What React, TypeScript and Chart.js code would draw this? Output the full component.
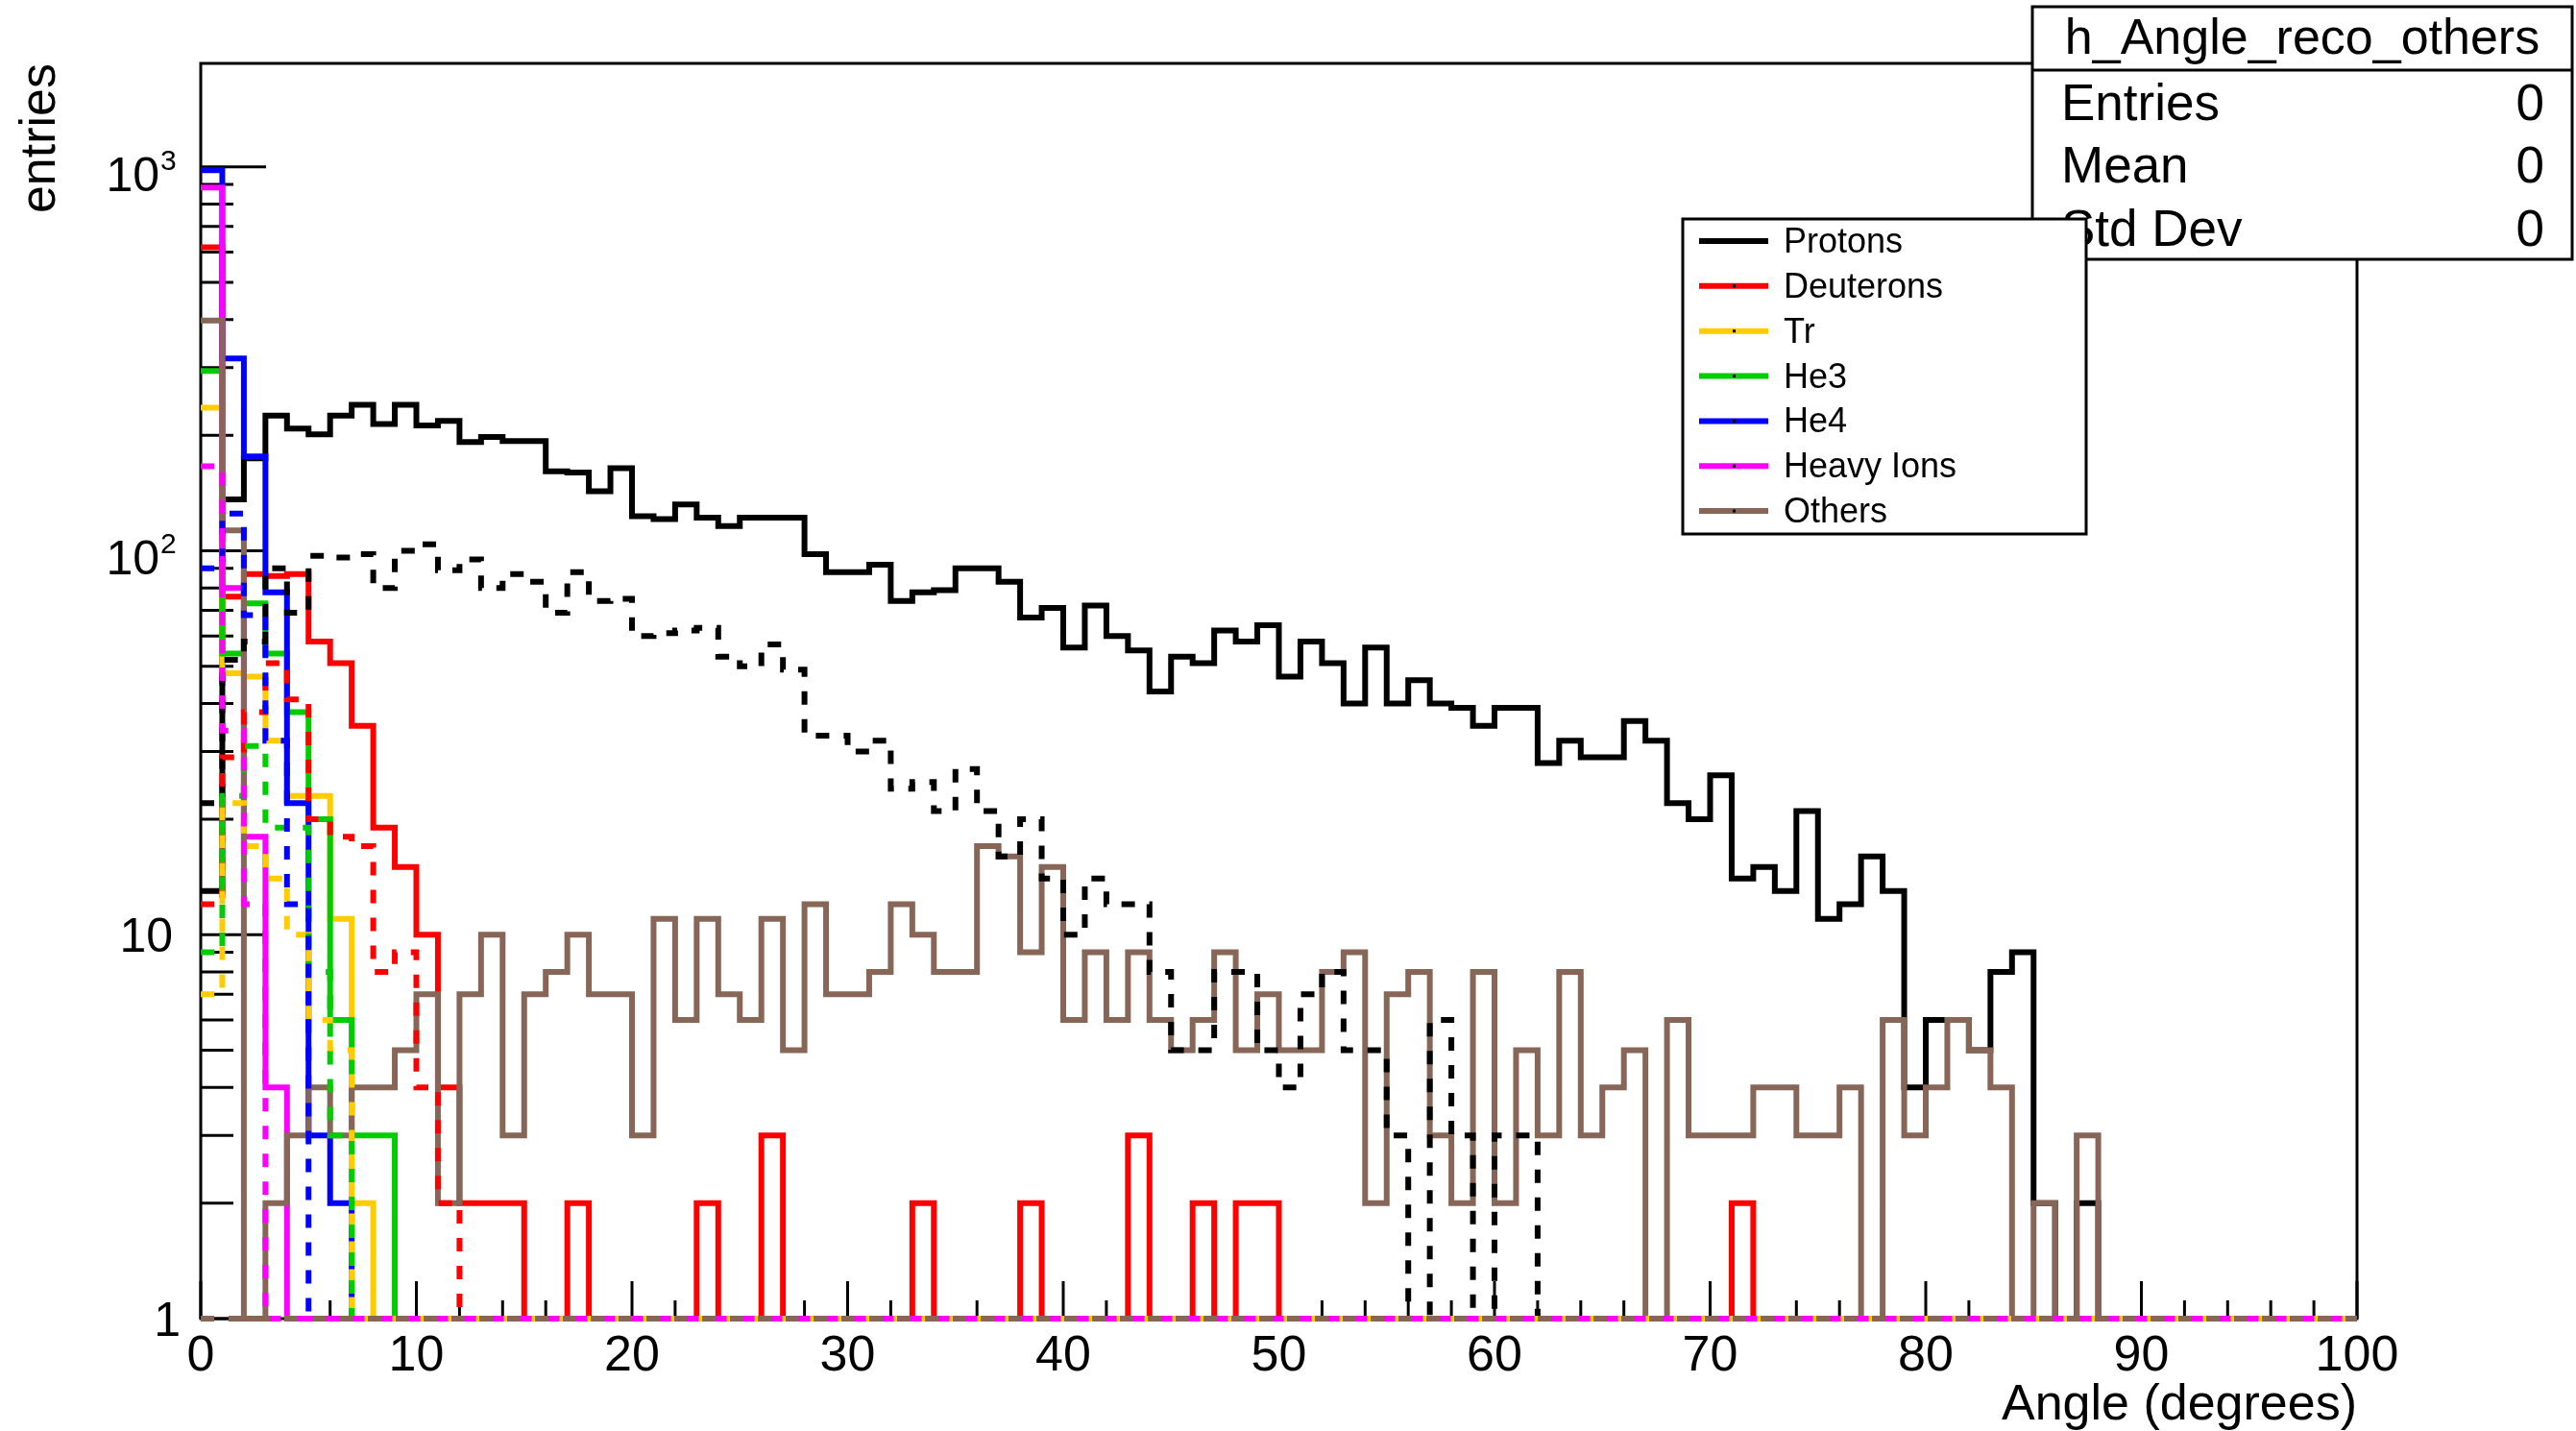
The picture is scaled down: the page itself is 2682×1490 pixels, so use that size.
import React, { useEffect, useRef } from "react";
import { Chart, registerables } from "chart.js";

Chart.register(...registerables);

const CANVAS_W = 2682;
const CANVAS_H = 1490;

// Histogram definition: 100 bins of 1 degree from 0 to 100
const N_BINS = 100;
const X_MIN = 0;
const X_MAX = 100;
const Y_MIN = 1;
const Y_MAX = 1860;

const X_TICK_LABELS = ["0", "10", "20", "30", "40", "50", "60", "70", "80", "90", "100"];
const X_MAJOR_STEP = 10;
const X_MINOR_STEP = 2;
const Y_DECADES = [1, 10, 100, 1000];
const Y_DECADE_BASES = ["1", "10", "10", "10"];
const Y_DECADE_EXPS = ["", "", "2", "3"];

const X_TITLE = "Angle (degrees)";
const Y_TITLE = "entries";
const STATS_TITLE = "h_Angle_reco_others";
const STATS_NAMES = ["Entries", "Mean", "Std Dev"];
const STATS_VALUES = ["0", "0", "0"];

const LEGEND_LABELS = ["Protons", "Deuterons", "Tr", "He3", "He4", "Heavy Ions", "Others"];
const SERIES_COLORS = ["#000000", "#FF0000", "#FFCC00", "#00CC00", "#0000FF", "#FF00FF", "#876657"];

// ---- bin contents (solid = true, dashed = reco) ----
const PROTONS_TRUE = [
  13, 136, 174, 225, 208, 201, 225, 240, 214, 240,
  212, 218, 192, 198, 193, 193, 161, 160, 143, 164,
  123, 121, 132, 122, 116, 122, 122, 122, 98, 88,
  88, 92, 74, 78, 79, 90, 90, 83, 67, 71,
  56, 72, 60, 55, 43, 53, 51, 62, 58, 64,
  47, 58, 51, 40, 56, 40, 46, 40, 39, 35,
  39, 39, 28, 32, 29, 29, 36, 32, 22, 20,
  26, 14, 15, 13, 21, 11, 12, 16, 13, 4,
  6, 6, 5, 8, 9, 2, 0, 2, 0, 0,
  0, 0, 0, 0, 0, 0, 0, 0, 0, 0,
];
const PROTONS_RECO = [
  22, 52, 58, 90, 69, 97, 96, 98, 80, 100,
  104, 89, 95, 80, 87, 83, 69, 88, 74, 75,
  60, 61, 62, 63, 53, 50, 57, 49, 33, 33,
  30, 32, 24, 25, 21, 27, 21, 16, 20, 14,
  10, 14, 12, 12, 8, 5, 5, 8, 8, 5,
  4, 7, 8, 5, 5, 3, 0, 6, 3, 0,
  3, 3, 0, 0, 0, 0, 0, 0, 0, 0,
  0, 0, 0, 0, 0, 0, 0, 0, 0, 0,
  0, 0, 0, 0, 0, 0, 0, 0, 0, 0,
  0, 0, 0, 0, 0, 0, 0, 0, 0, 0,
];
const DEUTERONS_TRUE = [
  617, 76, 87, 86, 87, 58, 51, 35, 19, 15,
  10, 4, 2, 2, 2, 0, 0, 2, 0, 0,
  0, 0, 0, 2, 0, 0, 3, 0, 0, 0,
  0, 0, 0, 2, 0, 0, 0, 0, 2, 0,
  0, 0, 0, 3, 0, 0, 2, 0, 2, 2,
  0, 0, 0, 0, 0, 0, 0, 0, 0, 0,
  0, 0, 0, 0, 0, 0, 0, 0, 0, 0,
  0, 2, 0, 0, 0, 0, 0, 0, 0, 0,
  0, 0, 0, 0, 0, 0, 0, 0, 0, 0,
  0, 0, 0, 0, 0, 0, 0, 0, 0, 0,
];
const DEUTERONS_RECO = [
  12, 29, 38, 51, 41, 20, 18, 17, 8, 9,
  4, 2, 0, 0, 0, 0, 0, 0, 0, 0,
  0, 0, 0, 0, 0, 0, 0, 0, 0, 0,
  0, 0, 0, 0, 0, 0, 0, 0, 0, 0,
  0, 0, 0, 0, 0, 0, 0, 0, 0, 0,
  0, 0, 0, 0, 0, 0, 0, 0, 0, 0,
  0, 0, 0, 0, 0, 0, 0, 0, 0, 0,
  0, 0, 0, 0, 0, 0, 0, 0, 0, 0,
  0, 0, 0, 0, 0, 0, 0, 0, 0, 0,
  0, 0, 0, 0, 0, 0, 0, 0, 0, 0,
];
const TRITONS_TRUE = [
  236, 48, 47, 32, 23, 23, 11, 2, 0, 0,
  0, 0, 0, 0, 0, 0, 0, 0, 0, 0,
  0, 0, 0, 0, 0, 0, 0, 0, 0, 0,
  0, 0, 0, 0, 0, 0, 0, 0, 0, 0,
  0, 0, 0, 0, 0, 0, 0, 0, 0, 0,
  0, 0, 0, 0, 0, 0, 0, 0, 0, 0,
  0, 0, 0, 0, 0, 0, 0, 0, 0, 0,
  0, 0, 0, 0, 0, 0, 0, 0, 0, 0,
  0, 0, 0, 0, 0, 0, 0, 0, 0, 0,
  0, 0, 0, 0, 0, 0, 0, 0, 0, 0,
];
const TRITONS_RECO = [
  7, 22, 17, 14, 10, 6, 5, 0, 0, 0,
  0, 0, 0, 0, 0, 0, 0, 0, 0, 0,
  0, 0, 0, 0, 0, 0, 0, 0, 0, 0,
  0, 0, 0, 0, 0, 0, 0, 0, 0, 0,
  0, 0, 0, 0, 0, 0, 0, 0, 0, 0,
  0, 0, 0, 0, 0, 0, 0, 0, 0, 0,
  0, 0, 0, 0, 0, 0, 0, 0, 0, 0,
  0, 0, 0, 0, 0, 0, 0, 0, 0, 0,
  0, 0, 0, 0, 0, 0, 0, 0, 0, 0,
  0, 0, 0, 0, 0, 0, 0, 0, 0, 0,
];
const HE3_TRUE = [
  294, 54, 73, 54, 38, 20, 6, 3, 3, 0,
  0, 0, 0, 0, 0, 0, 0, 0, 0, 0,
  0, 0, 0, 0, 0, 0, 0, 0, 0, 0,
  0, 0, 0, 0, 0, 0, 0, 0, 0, 0,
  0, 0, 0, 0, 0, 0, 0, 0, 0, 0,
  0, 0, 0, 0, 0, 0, 0, 0, 0, 0,
  0, 0, 0, 0, 0, 0, 0, 0, 0, 0,
  0, 0, 0, 0, 0, 0, 0, 0, 0, 0,
  0, 0, 0, 0, 0, 0, 0, 0, 0, 0,
  0, 0, 0, 0, 0, 0, 0, 0, 0, 0,
];
const HE3_RECO = [
  9, 23, 31, 19, 19, 8, 3, 0, 0, 0,
  0, 0, 0, 0, 0, 0, 0, 0, 0, 0,
  0, 0, 0, 0, 0, 0, 0, 0, 0, 0,
  0, 0, 0, 0, 0, 0, 0, 0, 0, 0,
  0, 0, 0, 0, 0, 0, 0, 0, 0, 0,
  0, 0, 0, 0, 0, 0, 0, 0, 0, 0,
  0, 0, 0, 0, 0, 0, 0, 0, 0, 0,
  0, 0, 0, 0, 0, 0, 0, 0, 0, 0,
  0, 0, 0, 0, 0, 0, 0, 0, 0, 0,
  0, 0, 0, 0, 0, 0, 0, 0, 0, 0,
];
const HE4_TRUE = [
  980, 317, 176, 78, 22, 3, 2, 0, 0, 0,
  0, 0, 0, 0, 0, 0, 0, 0, 0, 0,
  0, 0, 0, 0, 0, 0, 0, 0, 0, 0,
  0, 0, 0, 0, 0, 0, 0, 0, 0, 0,
  0, 0, 0, 0, 0, 0, 0, 0, 0, 0,
  0, 0, 0, 0, 0, 0, 0, 0, 0, 0,
  0, 0, 0, 0, 0, 0, 0, 0, 0, 0,
  0, 0, 0, 0, 0, 0, 0, 0, 0, 0,
  0, 0, 0, 0, 0, 0, 0, 0, 0, 0,
  0, 0, 0, 0, 0, 0, 0, 0, 0, 0,
];
const HE4_RECO = [
  90, 125, 68, 32, 12, 0, 0, 0, 0, 0,
  0, 0, 0, 0, 0, 0, 0, 0, 0, 0,
  0, 0, 0, 0, 0, 0, 0, 0, 0, 0,
  0, 0, 0, 0, 0, 0, 0, 0, 0, 0,
  0, 0, 0, 0, 0, 0, 0, 0, 0, 0,
  0, 0, 0, 0, 0, 0, 0, 0, 0, 0,
  0, 0, 0, 0, 0, 0, 0, 0, 0, 0,
  0, 0, 0, 0, 0, 0, 0, 0, 0, 0,
  0, 0, 0, 0, 0, 0, 0, 0, 0, 0,
  0, 0, 0, 0, 0, 0, 0, 0, 0, 0,
];
const HEAVY_TRUE = [
  884, 80, 18, 4, 0, 0, 0, 0, 0, 0,
  0, 0, 0, 0, 0, 0, 0, 0, 0, 0,
  0, 0, 0, 0, 0, 0, 0, 0, 0, 0,
  0, 0, 0, 0, 0, 0, 0, 0, 0, 0,
  0, 0, 0, 0, 0, 0, 0, 0, 0, 0,
  0, 0, 0, 0, 0, 0, 0, 0, 0, 0,
  0, 0, 0, 0, 0, 0, 0, 0, 0, 0,
  0, 0, 0, 0, 0, 0, 0, 0, 0, 0,
  0, 0, 0, 0, 0, 0, 0, 0, 0, 0,
  0, 0, 0, 0, 0, 0, 0, 0, 0, 0,
];
const HEAVY_RECO = [
  166, 34, 12, 0, 0, 0, 0, 0, 0, 0,
  0, 0, 0, 0, 0, 0, 0, 0, 0, 0,
  0, 0, 0, 0, 0, 0, 0, 0, 0, 0,
  0, 0, 0, 0, 0, 0, 0, 0, 0, 0,
  0, 0, 0, 0, 0, 0, 0, 0, 0, 0,
  0, 0, 0, 0, 0, 0, 0, 0, 0, 0,
  0, 0, 0, 0, 0, 0, 0, 0, 0, 0,
  0, 0, 0, 0, 0, 0, 0, 0, 0, 0,
  0, 0, 0, 0, 0, 0, 0, 0, 0, 0,
  0, 0, 0, 0, 0, 0, 0, 0, 0, 0,
];
const OTHERS_TRUE = [
  398, 113, 0, 2, 3, 4, 3, 4, 4, 5,
  7, 2, 7, 10, 3, 7, 8, 10, 7, 7,
  3, 11, 6, 11, 7, 6, 11, 5, 12, 7,
  7, 8, 12, 10, 8, 8, 17, 16, 9, 15,
  6, 9, 6, 9, 6, 5, 6, 9, 5, 7,
  5, 5, 8, 9, 2, 7, 8, 3, 2, 8,
  2, 5, 3, 8, 3, 4, 5, 0, 6, 3,
  3, 3, 4, 4, 3, 3, 4, 0, 6, 3,
  4, 6, 5, 4, 0, 2, 0, 3, 0, 0,
  0, 0, 0, 0, 0, 0, 0, 0, 0, 0,
];
const OTHERS_RECO = [
  0, 0, 0, 0, 0, 0, 0, 0, 0, 0,
  0, 0, 0, 0, 0, 0, 0, 0, 0, 0,
  0, 0, 0, 0, 0, 0, 0, 0, 0, 0,
  0, 0, 0, 0, 0, 0, 0, 0, 0, 0,
  0, 0, 0, 0, 0, 0, 0, 0, 0, 0,
  0, 0, 0, 0, 0, 0, 0, 0, 0, 0,
  0, 0, 0, 0, 0, 0, 0, 0, 0, 0,
  0, 0, 0, 0, 0, 0, 0, 0, 0, 0,
  0, 0, 0, 0, 0, 0, 0, 0, 0, 0,
  0, 0, 0, 0, 0, 0, 0, 0, 0, 0,
];

const TRUE_SERIES = [PROTONS_TRUE, DEUTERONS_TRUE, TRITONS_TRUE, HE3_TRUE, HE4_TRUE, HEAVY_TRUE, OTHERS_TRUE];
const RECO_SERIES = [PROTONS_RECO, DEUTERONS_RECO, TRITONS_RECO, HE3_RECO, HE4_RECO, HEAVY_RECO, OTHERS_RECO];

// ---- layout (pixels) ----
const FRAME = { left: 209, top: 66, right: 2454, bottom: 1373 };
const FONT = '"Liberation Sans", Arial, Helvetica, sans-serif';
const HIST_LINE_WIDTH = 6;
const DASH = [14, 15];

function stepPoints(values: number[]) {
  const binWidth = (X_MAX - X_MIN) / N_BINS;
  const pts = values.map((v, i) => ({ x: X_MIN + i * binWidth, y: v > 0 ? v : Y_MIN }));
  const last = values[values.length - 1];
  pts.push({ x: X_MAX, y: last > 0 ? last : Y_MIN });
  return pts;
}

function line(ctx: CanvasRenderingContext2D, x1: number, y1: number, x2: number, y2: number) {
  ctx.beginPath();
  ctx.moveTo(x1, y1);
  ctx.lineTo(x2, y2);
  ctx.stroke();
}

const rootStylePlugin = {
  id: "rootStyle",
  beforeDraw(chart: any) {
    const ctx = chart.ctx as CanvasRenderingContext2D;
    ctx.save();
    ctx.fillStyle = "#ffffff";
    ctx.fillRect(0, 0, chart.width, chart.height);
    ctx.restore();
  },
  beforeDatasetsDraw(chart: any) {
    const ctx = chart.ctx as CanvasRenderingContext2D;
    const xs = chart.scales.x;
    const ys = chart.scales.y;
    const { left, right, top, bottom } = chart.chartArea;
    ctx.save();
    ctx.strokeStyle = "#000";
    ctx.lineWidth = 3;
    ctx.lineCap = "butt";
    ctx.strokeRect(left, top, right - left, bottom - top);

    // x ticks (inside the frame)
    for (let v = X_MIN; v <= X_MAX + 1e-9; v += X_MINOR_STEP) {
      const px = xs.getPixelForValue(v);
      const major = Math.abs(v % X_MAJOR_STEP) < 1e-9;
      line(ctx, px, bottom, px, bottom - (major ? 39 : 19));
    }
    // y ticks (log)
    for (const d of Y_DECADES) {
      for (let m = 1; m <= 9; m++) {
        const v = d * m;
        if (v > Y_MAX) break;
        const py = ys.getPixelForValue(v);
        line(ctx, left, py, left + (m === 1 ? 68 : 34), py);
      }
    }

    ctx.fillStyle = "#000";
    // x labels
    ctx.font = `52px ${FONT}`;
    ctx.textAlign = "center";
    ctx.textBaseline = "alphabetic";
    X_TICK_LABELS.forEach((lab, i) => {
      const px = xs.getPixelForValue(X_MIN + i * X_MAJOR_STEP);
      ctx.fillText(lab, px, 1427);
    });
    // y labels
    Y_DECADES.forEach((d, i) => {
      const py = ys.getPixelForValue(d);
      const base = Y_DECADE_BASES[i];
      const exp = Y_DECADE_EXPS[i];
      ctx.textAlign = "right";
      ctx.font = `50px ${FONT}`;
      if (exp === "") {
        ctx.fillText(base, base === "1" ? 188 : 180, py + 18);
      } else {
        ctx.fillText(base, 166, py + 25);
        ctx.font = `30px ${FONT}`;
        ctx.textAlign = "left";
        ctx.fillText(exp, 167, py + 3);
      }
    });
    // axis titles
    ctx.font = `52px ${FONT}`;
    ctx.textAlign = "right";
    ctx.fillText(X_TITLE, right, 1478);
    ctx.save();
    ctx.translate(57, top);
    ctx.rotate(-Math.PI / 2);
    ctx.textAlign = "right";
    ctx.fillText(Y_TITLE, 0, 0);
    ctx.restore();
    ctx.restore();
  },
  afterDraw(chart: any) {
    const ctx = chart.ctx as CanvasRenderingContext2D;
    ctx.save();
    // stats box
    const sb = { l: 2116, t: 7, r: 2678, b: 270, div: 73 };
    ctx.fillStyle = "#fff";
    ctx.fillRect(sb.l, sb.t, sb.r - sb.l, sb.b - sb.t);
    ctx.strokeStyle = "#000";
    ctx.lineWidth = 3;
    ctx.strokeRect(sb.l, sb.t, sb.r - sb.l, sb.b - sb.t);
    line(ctx, sb.l, sb.div, sb.r, sb.div);
    ctx.fillStyle = "#000";
    ctx.font = `52px ${FONT}`;
    ctx.textAlign = "center";
    ctx.textBaseline = "alphabetic";
    ctx.fillText(STATS_TITLE, (sb.l + sb.r) / 2, 56);
    ctx.font = `53px ${FONT}`;
    const rows = [125, 190, 256];
    STATS_NAMES.forEach((n, i) => {
      ctx.textAlign = "left";
      ctx.fillText(n, 2146, rows[i]);
      ctx.textAlign = "right";
      ctx.fillText(STATS_VALUES[i], 2649, rows[i]);
    });

    // legend
    const lg = { l: 1752, t: 228, r: 2172, b: 556 };
    ctx.fillStyle = "#fff";
    ctx.fillRect(lg.l, lg.t, lg.r - lg.l, lg.b - lg.t);
    ctx.strokeStyle = "#000";
    ctx.lineWidth = 3;
    ctx.strokeRect(lg.l, lg.t, lg.r - lg.l, lg.b - lg.t);
    ctx.font = `36px ${FONT}`;
    ctx.textAlign = "left";
    LEGEND_LABELS.forEach((lab, i) => {
      const y = 251 + i * 46.85;
      ctx.strokeStyle = SERIES_COLORS[i];
      ctx.lineWidth = 6;
      line(ctx, 1769, y, 1841, y);
      ctx.fillStyle = "#000";
      ctx.fillRect(1804, y - 1.5, 3, 3);
      ctx.fillText(lab, 1857, y + 12);
    });
    ctx.restore();
  },
};

export default function App() {
  const canvasRef = useRef<HTMLCanvasElement | null>(null);

  useEffect(() => {
    const canvas = canvasRef.current;
    if (!canvas) return;
    const datasets: any[] = [];
    let drawIndex = 0;
    const total = TRUE_SERIES.length + RECO_SERIES.length;
    const make = (values: number[], color: string, dashed: boolean, label: string) => ({
      type: "line",
      label,
      data: stepPoints(values),
      stepped: "before",
      borderColor: color,
      backgroundColor: color,
      borderWidth: HIST_LINE_WIDTH,
      borderDash: dashed ? DASH : [],
      borderCapStyle: "butt",
      borderJoinStyle: "miter",
      pointRadius: 0,
      pointHoverRadius: 0,
      fill: false,
      tension: 0,
      clip: false,
      order: total - drawIndex++,
    });
    TRUE_SERIES.forEach((vals, i) => datasets.push(make(vals, SERIES_COLORS[i], false, LEGEND_LABELS[i])));
    RECO_SERIES.forEach((vals, i) => datasets.push(make(vals, SERIES_COLORS[i], true, LEGEND_LABELS[i] + " reco")));

    const chart = new Chart(canvas, {
      type: "line",
      data: { datasets },
      options: {
        responsive: false,
        maintainAspectRatio: false,
        animation: false,
        devicePixelRatio: 1,
        events: [],
        layout: {
          padding: {
            left: FRAME.left,
            top: FRAME.top,
            right: CANVAS_W - FRAME.right,
            bottom: CANVAS_H - FRAME.bottom,
          },
        },
        scales: {
          x: { type: "linear", min: X_MIN, max: X_MAX, display: false },
          y: { type: "logarithmic", min: Y_MIN, max: Y_MAX, display: false },
        },
        plugins: {
          legend: { display: false },
          tooltip: { enabled: false },
          title: { display: false },
        },
      },
      plugins: [rootStylePlugin],
    } as any);
    return () => chart.destroy();
  }, []);

  return (
    <div style={{ position: "fixed", left: 0, top: 0, width: CANVAS_W, height: CANVAS_H, background: "#fff" }}>
      <canvas ref={canvasRef} width={CANVAS_W} height={CANVAS_H} style={{ width: CANVAS_W, height: CANVAS_H, display: "block" }} />
    </div>
  );
}
